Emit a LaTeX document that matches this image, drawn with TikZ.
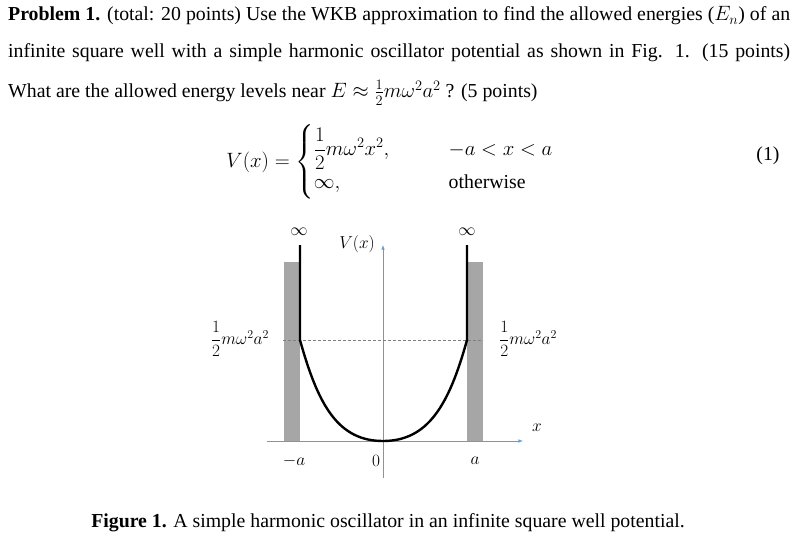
\documentclass[tikz,border=0pt]{standalone}
\usepackage{amsmath}
\usepackage{fontspec}
\setmainfont{Liberation Serif}
\begin{document}
\begin{tikzpicture}[x=1pt,y=-1pt,
  txt/.style={anchor=base west,inner sep=0pt,font=\fontsize{19.8}{22}\selectfont},
  lbl/.style={inner sep=1pt,font=\fontsize{18}{20}\selectfont},
  axis/.style={draw=blue!50!cyan!70!black!60,line width=0.6pt,-latex}]
\useasboundingbox (0,0) rectangle (802,553);
\node[txt] (l1) at (8,21) {\makebox[782pt][s]{\textbf{Problem 1.} (total: 20 points) Use the WKB approximation to find the allowed energies ($E_n$) of an}};
\node[txt] (l2) at (8,58) {\makebox[782pt][s]{infinite square well with a simple harmonic oscillator potential as shown in Fig. 1. (15 points)}};
\node[txt] (l3) at (8,98) {What are the allowed energy levels near $E\approx \tfrac12 m\omega^2a^2$ ? (5 points)};
\node[txt,anchor=center] (eq) at (390,162) {$V(x)=\begin{cases}\dfrac12 m\omega^2x^2, & \qquad -a<x<a\\[2pt] \infty, & \qquad \text{otherwise}\end{cases}$};
\node[txt,anchor=center] (eqn) at (768,156) {(1)};
% figure
\fill[gray!70] (284,262) rectangle (300,441);
\fill[gray!70] (467,262) rectangle (483,441);
\coordinate (o) at (383,441);
\draw[axis] (267,441) -- (523,441) coordinate (xe);
\draw[axis] (383,478) -- (383,245) coordinate (ye);
\draw[densely dashed,gray,line width=0.4pt] (283,340) -- (483,340);
\draw[line width=2.4pt,line join=round] (300,245) -- (300,340)
  .. controls (318,405) and (338,441) .. (383,441)
  .. controls (428,441) and (449,405) .. (467,340) -- (467,245);
\node[lbl] (inf1) at (299,232) {$\infty$};
\node[lbl] (inf2) at (467,232) {$\infty$};
\node[lbl] (vx) at (357,244) {$V(x)$};
\node[lbl] (xl) at (537,428) {$x$};
\node[lbl] (ma) at (294,461) {$-a$};
\node[lbl] (zero) at (376,461) {$0$};
\node[lbl] (pa) at (475,461) {$a$};
\node[lbl] (hl) at (240,339) {$\dfrac12 m\omega^2a^2$};
\node[lbl] (hr) at (528,339) {$\dfrac12 m\omega^2a^2$};
\node[txt,anchor=base] (cap) at (388,527) {\textbf{Figure 1.} A simple harmonic oscillator in an infinite square well potential.};
\end{tikzpicture}
\end{document}
